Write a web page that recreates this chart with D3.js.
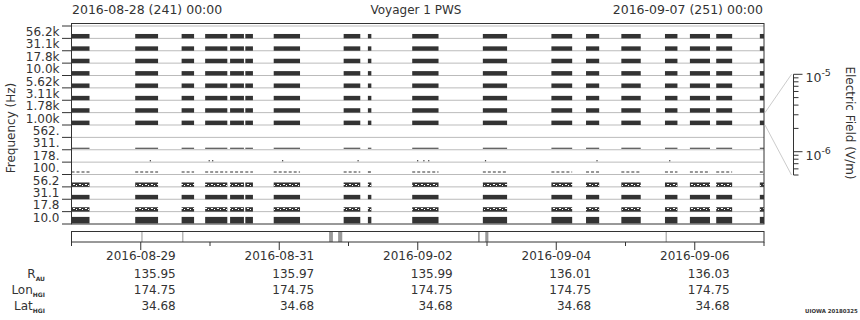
<!DOCTYPE html>
<html>
<head>
<meta charset="utf-8">
<script src="https://cdn.jsdelivr.net/npm/d3@7"></script>
<style>
  body { margin: 0; background: #fff; }
  text { font-family: "DejaVu Sans", sans-serif; fill: #333; }
</style>
</head>
<body>
<div id="chart"></div>
<script>
// frequency channels, top to bottom
const channels = ["56.2k", "31.1k", "17.8k", "10.0k", "5.62k", "3.11k", "1.78k", "1.00k",
                  "562.", "311.", "178.", "100.", "56.2", "31.1", "17.8", "10.0"];
// how each channel trace looks
const channelKind = ["solid", "solid", "solid", "solid", "solid", "solid", "solid", "solid",
                     "none", "line", "dots", "dash", "texture", "solid", "texture", "wide"];
// spans with data, days after 2016-08-28 00:00
const segments = [[0.00, 0.26], [0.92, 1.25], [1.59, 1.77], [1.93, 2.25], [2.29, 2.49],
                  [2.51, 2.62], [2.92, 3.30], [3.93, 4.17], [4.28, 4.33], [4.92, 5.30],
                  [5.94, 6.29], [6.93, 7.23], [7.43, 7.62], [7.94, 8.22], [8.57, 8.75],
                  [8.93, 9.22], [9.31, 9.54], [9.94, 10.00]];
// isolated points in the 178 Hz channel
const dotDays = [1.13, 1.98, 2.03, 3.04, 4.13, 4.99, 5.08, 5.15, 5.97, 7.58, 8.63];
// marks in the strip under the plot
const stripMarks = [[1.01, 1.025], [1.60, 1.615], [3.72, 3.775], [3.85, 3.91],
                    [5.87, 5.895], [5.975, 6.02], [8.58, 8.595]];
// bottom axis
const tickDays = [0, 1, 2, 3, 4, 5, 6, 7, 8, 9, 10];
const labelDays = [1, 3, 5, 7, 9];
const rAU = ["135.95", "135.97", "135.99", "136.01", "136.03"];
const lonHGI = ["174.75", "174.75", "174.75", "174.75", "174.75"];
const latHGI = ["34.68", "34.68", "34.68", "34.68", "34.68"];
// colour bar
const cbMajor = [1e-6, 1e-5];
const cbMinor = [5e-7, 6e-7, 7e-7, 8e-7, 9e-7, 2e-6, 3e-6, 4e-6, 5e-6, 6e-6, 7e-6, 8e-6, 9e-6];

const W = 860, H = 320;
const t0 = Date.UTC(2016, 7, 28);
const day = d => new Date(t0 + d * 864e5);

const svg = d3.select("#chart").append("svg")
    .attr("width", W).attr("height", H);

const x = d3.scaleUtc()
    .domain([day(0), day(10)])
    .range([71.5, 764]);

const y = d3.scaleBand()
    .domain(channels)
    .range([26, 224]);

const bw = y.bandwidth();
const dark = "#333";

// header
svg.append("text").attr("x", 72).attr("y", 13.5).style("font-size", "12.5px")
    .text("2016-08-28 (241) 00:00");
svg.append("text").attr("x", 763).attr("y", 13.5).attr("text-anchor", "end").style("font-size", "12.5px")
    .text("2016-09-07 (251) 00:00");
svg.append("text").attr("x", 416).attr("y", 14).attr("text-anchor", "middle").style("font-size", "12px")
    .text("Voyager 1 PWS");

// band boundaries
const bounds = d3.range(channels.length + 1).map(i => 26 + i * bw);
svg.append("g").selectAll("line").data(bounds.slice(0, -1)).join("line")
    .attr("x1", 71.5).attr("x2", 764)
    .attr("y1", d => d).attr("y2", d => d)
    .attr("stroke", "#bbb");

// texture pattern for noisy channels
const pat = svg.append("defs").append("pattern")
    .attr("id", "tex").attr("patternUnits", "userSpaceOnUse")
    .attr("width", 6).attr("height", 4);
pat.append("rect").attr("width", 6).attr("height", 4).attr("fill", dark);
pat.append("rect").attr("x", 1).attr("y", 0).attr("width", 2).attr("height", 1).attr("fill", "#fff");
pat.append("rect").attr("x", 4).attr("y", 1).attr("width", 1).attr("height", 1).attr("fill", "#fff");

const plot = svg.append("g");
channels.forEach((c, i) => {
    const kind = channelKind[i];
    const bot = y(c) + bw;
    if (kind === "solid" || kind === "wide" || kind === "texture") {
        const h = kind === "wide" ? 6.5 : 4.4;
        plot.append("g").selectAll("rect").data(segments).join("rect")
            .attr("x", d => x(day(d[0])))
            .attr("width", d => Math.max(1, x(day(d[1])) - x(day(d[0]))))
            .attr("y", bot - h - (kind === "wide" ? 0.6 : 0))
            .attr("height", h)
            .attr("fill", kind === "texture" ? "url(#tex)" : dark);
    } else if (kind === "line") {
        plot.append("g").selectAll("rect").data(segments).join("rect")
            .attr("x", d => x(day(d[0])))
            .attr("width", d => Math.max(1, x(day(d[1])) - x(day(d[0]))))
            .attr("y", bot - 2).attr("height", 1)
            .attr("fill", dark);
    } else if (kind === "dash") {
        plot.append("g").selectAll("line").data(segments).join("line")
            .attr("x1", d => x(day(d[0])))
            .attr("x2", d => x(day(d[1])))
            .attr("y1", bot - 2.5).attr("y2", bot - 2.5)
            .attr("stroke", dark).attr("stroke-width", 1.2)
            .attr("stroke-dasharray", "3,2");
    } else if (kind === "dots") {
        plot.append("g").selectAll("rect").data(dotDays).join("rect")
            .attr("x", d => x(day(d))).attr("width", 1.2)
            .attr("y", bot - 2).attr("height", 1.2)
            .attr("fill", dark);
    }
});

// frame
svg.append("rect").attr("x", 71.5).attr("y", 23.5).attr("width", 692.5).attr("height", 200.5)
    .attr("fill", "none").attr("stroke", dark);

// left axis
const ya = svg.append("g").attr("transform", "translate(71.5,0)")
    .call(d3.axisLeft(y).tickSize(0).tickPadding(12));
ya.select(".domain").remove();
ya.selectAll("text").style("font-size", "12px").style("font-family", "DejaVu Sans").attr("fill", dark);
svg.append("g").selectAll("line").data(bounds).join("line")
    .attr("x1", 62).attr("x2", 71.5)
    .attr("y1", d => d).attr("y2", d => d)
    .attr("stroke", dark);

svg.append("text")
    .attr("transform", "translate(15,128) rotate(-90)")
    .attr("text-anchor", "middle").style("font-size", "12px")
    .text("Frequency (Hz)");

// colour bar axis on the right
const cb = d3.scaleLog().domain([5e-7, 1e-5]).range([175, 74.3]);
const cbx = 793.5;
const zoomBand = "1.00k";
svg.append("line").attr("x1", 765).attr("y1", y(zoomBand)).attr("x2", cbx - 2).attr("y2", cb(1e-5))
    .attr("stroke", "#ccc");
svg.append("line").attr("x1", 765).attr("y1", y(zoomBand) + bw).attr("x2", cbx - 2).attr("y2", cb(5e-7))
    .attr("stroke", "#ccc");
svg.append("line").attr("x1", cbx).attr("x2", cbx).attr("y1", cb(5e-7)).attr("y2", cb(1e-5))
    .attr("stroke", dark);
svg.append("g").selectAll("line").data(cbMinor).join("line")
    .attr("x1", cbx).attr("x2", cbx + 5)
    .attr("y1", d => cb(d)).attr("y2", d => cb(d))
    .attr("stroke", dark);
svg.append("g").selectAll("line").data(cbMajor).join("line")
    .attr("x1", cbx).attr("x2", cbx + 9)
    .attr("y1", d => cb(d)).attr("y2", d => cb(d))
    .attr("stroke", dark);
const cbl = svg.append("g").selectAll("text").data(cbMajor).join("text")
    .attr("x", cbx + 12).attr("y", d => cb(d) + 8)
    .style("font-size", "12.5px");
cbl.append("tspan").text("10");
cbl.append("tspan").attr("dy", -6).style("font-size", "9.5px")
    .text(d => Math.round(Math.log10(d)));

svg.append("text")
    .attr("transform", "translate(846,123) rotate(90)")
    .attr("text-anchor", "middle").style("font-size", "12px")
    .text("Electric Field (V/m)");

// strip under the plot
svg.append("g").selectAll("rect").data(stripMarks).join("rect")
    .attr("x", d => x(day(d[0])))
    .attr("width", d => Math.max(1, x(day(d[1])) - x(day(d[0]))))
    .attr("y", 231.5).attr("height", 10.5)
    .attr("fill", "#999");
svg.append("rect").attr("x", 71.5).attr("y", 231.5).attr("width", 692.5).attr("height", 10.5)
    .attr("fill", "none").attr("stroke", dark);

svg.append("g").selectAll("line").data(tickDays).join("line")
    .attr("x1", d => x(day(d))).attr("x2", d => x(day(d)))
    .attr("y1", 242).attr("y2", d => labelDays.includes(d) ? 250 : 246)
    .attr("stroke", dark);

const fmt = d3.utcFormat("%Y-%m-%d");
const rows = [
    { vals: labelDays.map(d => fmt(day(d))), y: 260 },
    { vals: rAU, y: 277.5 },
    { vals: lonHGI, y: 294 },
    { vals: latHGI, y: 310 }
];
rows.forEach(r => {
    svg.append("g").selectAll("text").data(r.vals).join("text")
        .attr("x", (d, i) => x(day(labelDays[i])) + 35)
        .attr("y", r.y)
        .attr("text-anchor", "end")
        .style("font-size", "12px")
        .text(d => d);
});

const rowNames = [["R", "AU"], ["Lon", "HGI"], ["Lat", "HGI"]];
rowNames.forEach((n, i) => {
    const t = svg.append("text").attr("x", 45).attr("y", rows[i + 1].y)
        .attr("text-anchor", "end").style("font-size", "12px");
    t.append("tspan").text(n[0]);
    t.append("tspan").attr("dy", 3).style("font-size", "6px").style("font-weight", "bold").text(n[1]);
});

svg.append("text").attr("x", 805).attr("y", 313)
    .style("font-size", "5.4px").style("font-weight", "bold")
    .text("UIOWA 20180325");
</script>
</body>
</html>
